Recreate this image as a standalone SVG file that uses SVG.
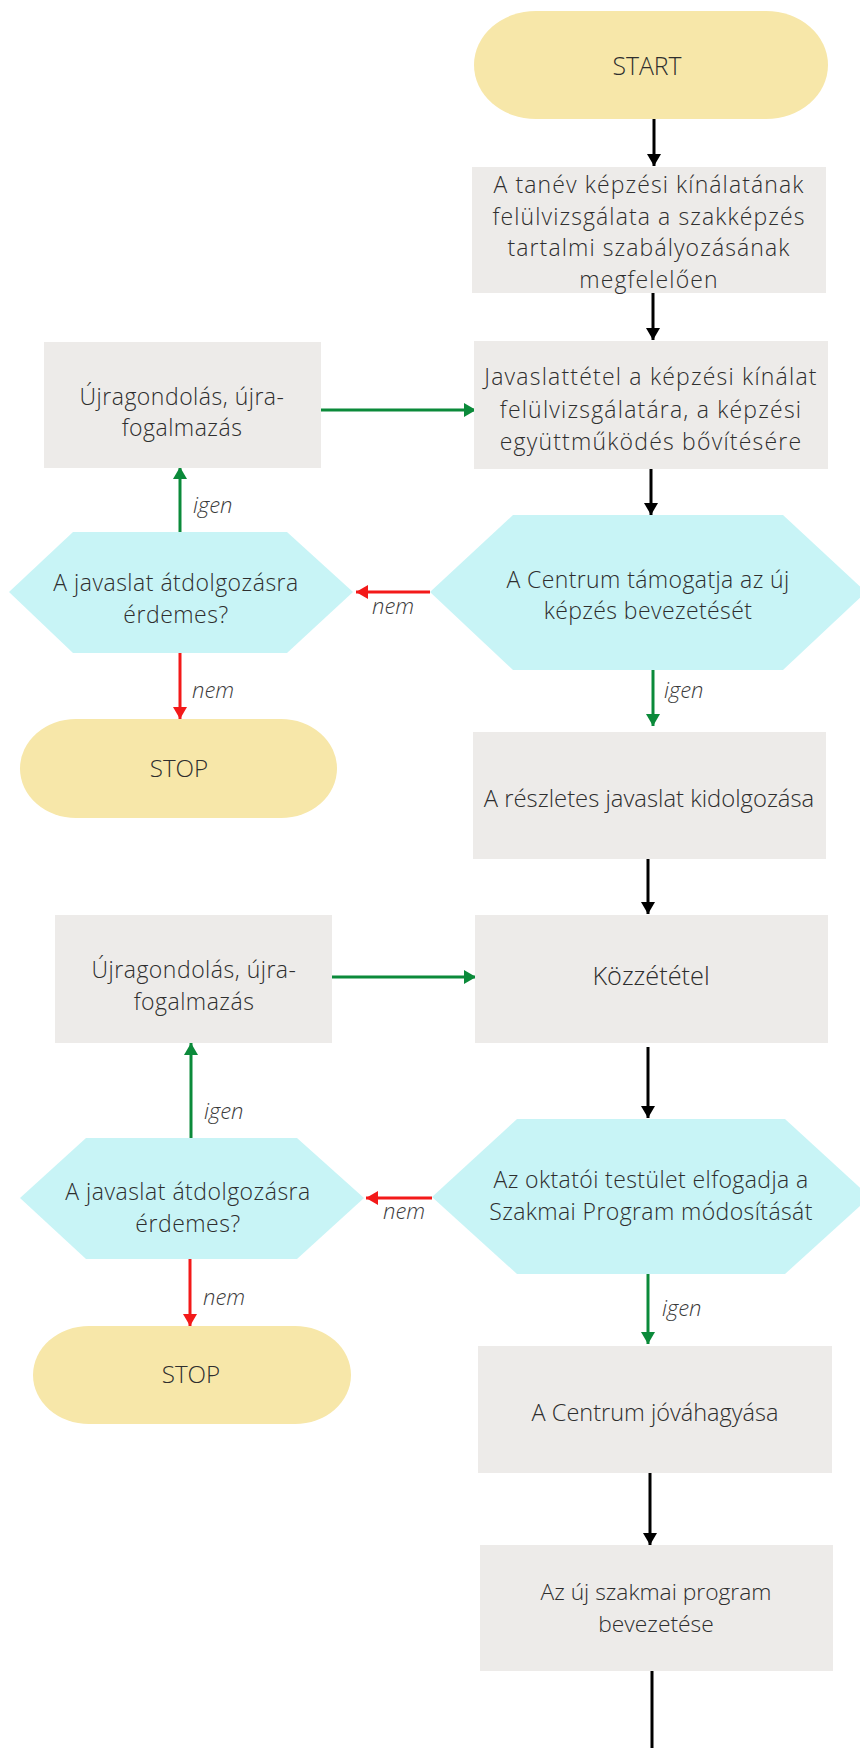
<svg xmlns="http://www.w3.org/2000/svg" width="860" height="1748" viewBox="0 0 860 1748">
  <defs>
    <style>
      .pill { fill: #f7e7a9; }
      .box { fill: #edebe9; }
      .hex { fill: #c8f4f6; }
      .t { font-family: "Open Sans", "Liberation Sans", sans-serif; font-size: 24px; font-weight: 300; fill: #2e2e2e; text-anchor: middle; }
      .lbl { font-family: "Open Sans", "Liberation Sans", sans-serif; font-size: 22px; font-style: italic; font-weight: 300; fill: #3a3a3a; }
      .k { stroke: #000000; stroke-width: 3; fill: none; }
      .g { stroke: #0b8a3a; stroke-width: 3; fill: none; }
      .r { stroke: #f31919; stroke-width: 3; fill: none; }
    </style>
    <marker id="ak" markerUnits="userSpaceOnUse" markerWidth="16" markerHeight="16" refX="12" refY="7" orient="auto">
      <path d="M0,0 L12,7 L0,14 Z" fill="#000000"/>
    </marker>
    <marker id="ag" markerUnits="userSpaceOnUse" markerWidth="16" markerHeight="16" refX="12" refY="7" orient="auto">
      <path d="M0,0 L12,7 L0,14 Z" fill="#0b8a3a"/>
    </marker>
    <marker id="ar" markerUnits="userSpaceOnUse" markerWidth="16" markerHeight="16" refX="12" refY="7" orient="auto">
      <path d="M0,0 L12,7 L0,14 Z" fill="#f31919"/>
    </marker>
  </defs>

  <rect width="860" height="1748" fill="#ffffff"/>

  <!-- connectors -->
  <g id="connectors">
    <line class="k" x1="654" y1="119" x2="654" y2="166" marker-end="url(#ak)"/>
    <line class="k" x1="653" y1="293" x2="653" y2="340" marker-end="url(#ak)"/>
    <line class="g" x1="321" y1="410" x2="476" y2="410" marker-end="url(#ag)"/>
    <line class="k" x1="651" y1="468" x2="651" y2="515" marker-end="url(#ak)"/>
    <line class="r" x1="430" y1="592" x2="356" y2="592" marker-end="url(#ar)"/>
    <line class="g" x1="180" y1="532" x2="180" y2="467" marker-end="url(#ag)"/>
    <line class="r" x1="180" y1="653" x2="180" y2="719" marker-end="url(#ar)"/>
    <line class="g" x1="653" y1="670" x2="653" y2="726" marker-end="url(#ag)"/>
    <line class="k" x1="648" y1="859" x2="648" y2="914" marker-end="url(#ak)"/>
    <line class="g" x1="332" y1="977" x2="476" y2="977" marker-end="url(#ag)"/>
    <line class="k" x1="648" y1="1047" x2="648" y2="1118" marker-end="url(#ak)"/>
    <line class="r" x1="432" y1="1198" x2="366" y2="1198" marker-end="url(#ar)"/>
    <line class="g" x1="191" y1="1138" x2="191" y2="1043" marker-end="url(#ag)"/>
    <line class="r" x1="190" y1="1259" x2="190" y2="1326" marker-end="url(#ar)"/>
    <line class="g" x1="648" y1="1274" x2="648" y2="1344" marker-end="url(#ag)"/>
    <line class="k" x1="650" y1="1473" x2="650" y2="1545" marker-end="url(#ak)"/>
    <line class="k" x1="652" y1="1671" x2="652" y2="1748"/>

    <text class="lbl" x="193" y="513">igen</text>
    <text class="lbl" x="372" y="614">nem</text>
    <text class="lbl" x="192" y="698">nem</text>
    <text class="lbl" x="664" y="698">igen</text>
    <text class="lbl" x="204" y="1119">igen</text>
    <text class="lbl" x="383" y="1219">nem</text>
    <text class="lbl" x="203" y="1305">nem</text>
    <text class="lbl" x="662" y="1316">igen</text>
  </g>

  <g id="start">
    <rect class="pill" x="474" y="11" width="354" height="108" rx="62" ry="54"/>
    <text class="t" x="647" y="75" style="font-size:24.8px">START</text>
  </g>

  <g id="review">
    <rect class="box" x="472" y="167" width="354" height="126"/>
    <text class="t" x="649" y="193" style="font-size:23px;letter-spacing:1.1px">A tanév képzési kínálatának<tspan x="649" y="225">felülvizsgálata a szakképzés</tspan><tspan x="649" y="256">tartalmi szabályozásának</tspan><tspan x="649" y="288">megfelelően</tspan></text>
  </g>

  <g id="proposal">
    <rect class="box" x="474" y="341" width="354" height="128"/>
    <text class="t" x="651" y="385" style="font-size:23px;letter-spacing:1.2px">Javaslattétel a képzési kínálat<tspan x="651" y="418">felülvizsgálatára, a képzési</tspan><tspan x="651" y="450">együttműködés bővítésére</tspan></text>
  </g>

  <g id="rethink1">
    <rect class="box" x="44" y="342" width="277" height="126"/>
    <text class="t" x="182" y="405" style="font-size:23px;letter-spacing:0.5px">Újragondolás, újra-<tspan x="182" y="436">fogalmazás</tspan></text>
  </g>

  <g id="decision1">
    <polygon class="hex" points="430,592 513,515 783,515 866,592 783,670 513,670"/>
    <text class="t" x="648" y="588" style="font-size:23px;letter-spacing:0.4px">A Centrum támogatja az új<tspan x="648" y="619">képzés bevezetését</tspan></text>
  </g>

  <g id="rework1">
    <polygon class="hex" points="9,592 73,532 287,532 353,592 287,653 73,653"/>
    <text class="t" x="176" y="591" style="font-size:23px;letter-spacing:0.5px">A javaslat átdolgozásra<tspan x="176" y="623">érdemes?</tspan></text>
  </g>

  <g id="stop1">
    <rect class="pill" x="20" y="719" width="317" height="99" rx="56" ry="49.5"/>
    <text class="t" x="179" y="777" style="font-size:24.2px">STOP</text>
  </g>

  <g id="detail">
    <rect class="box" x="473" y="732" width="353" height="127"/>
    <text class="t" x="649" y="807" style="font-size:23.8px">A részletes javaslat kidolgozása</text>
  </g>

  <g id="publish">
    <rect class="box" x="475" y="915" width="353" height="128"/>
    <text class="t" x="651" y="985" style="font-size:25.3px">Közzététel</text>
  </g>

  <g id="rethink2">
    <rect class="box" x="55" y="915" width="277" height="128"/>
    <text class="t" x="194" y="978" style="font-size:23px;letter-spacing:0.5px">Újragondolás, újra-<tspan x="194" y="1010">fogalmazás</tspan></text>
  </g>

  <g id="decision2">
    <polygon class="hex" points="432,1197 517,1119 785,1119 870,1197 785,1274 517,1274"/>
    <text class="t" x="651" y="1188" style="font-size:23px;letter-spacing:0.4px">Az oktatói testület elfogadja a<tspan x="651" y="1220">Szakmai Program módosítását</tspan></text>
  </g>

  <g id="rework2">
    <polygon class="hex" points="20,1198 86,1138 297,1138 364,1198 297,1259 86,1259"/>
    <text class="t" x="188" y="1200" style="font-size:23px;letter-spacing:0.5px">A javaslat átdolgozásra<tspan x="188" y="1232">érdemes?</tspan></text>
  </g>

  <g id="stop2">
    <rect class="pill" x="33" y="1326" width="318" height="98" rx="56" ry="49"/>
    <text class="t" x="191" y="1383" style="font-size:24.2px">STOP</text>
  </g>

  <g id="approval">
    <rect class="box" x="478" y="1346" width="354" height="127"/>
    <text class="t" x="655" y="1421" style="font-size:23.5px">A Centrum jóváhagyása</text>
  </g>

  <g id="introduction">
    <rect class="box" x="480" y="1545" width="353" height="126"/>
    <text class="t" x="656" y="1600" style="font-size:22.8px">Az új szakmai program<tspan x="656" y="1632">bevezetése</tspan></text>
  </g>
</svg>
